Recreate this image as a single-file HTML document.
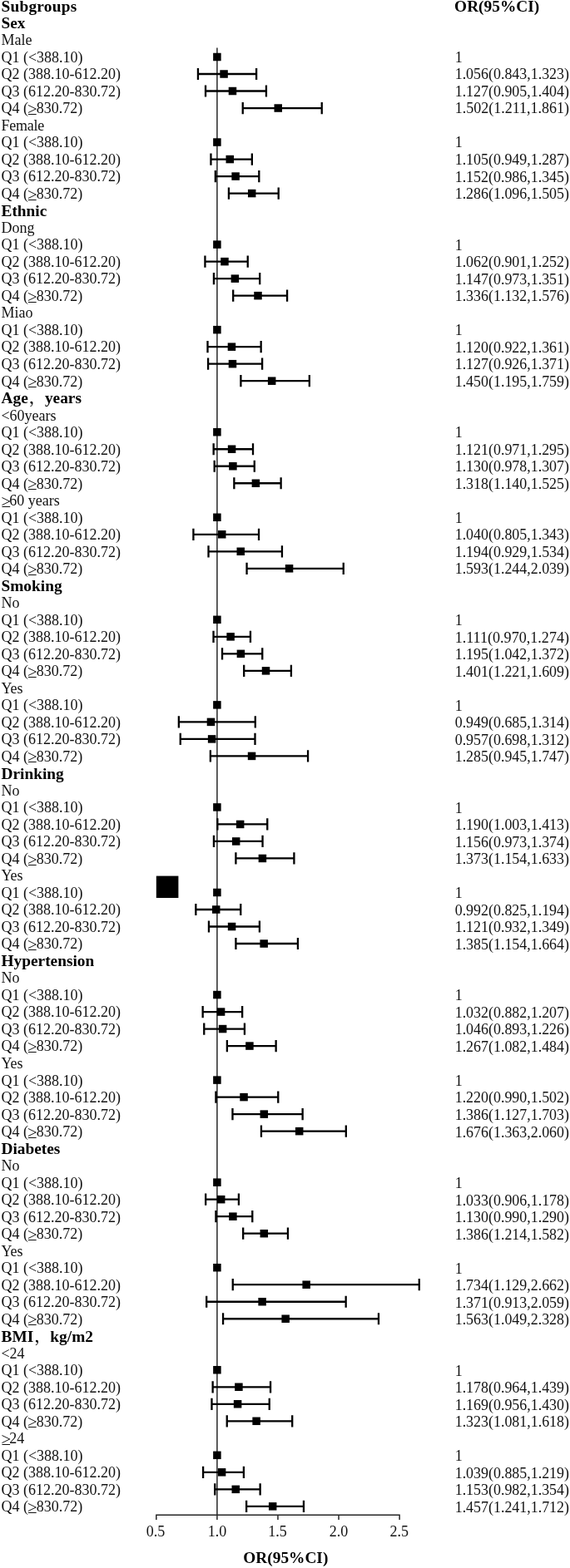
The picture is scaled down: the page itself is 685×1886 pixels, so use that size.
<!DOCTYPE html>
<html lang="en">
<head>
<meta charset="utf-8">
<title>Forest plot - subgroup OR(95%CI)</title>
<style>
html,body{margin:0;padding:0;background:#fff;}
body{width:685px;height:1886px;overflow:hidden;}
svg{display:block;}
.t text{font-family:"Liberation Serif","Noto Serif CJK SC",serif;font-size:18px;fill:#111;}
.t text.b{font-weight:bold;fill:#000;font-size:18.6px;}
.t text.ax{font-size:18px;}
.t .cm{font-weight:600;}
.t .ge{font-size:21px;}
</style>
</head>
<body>
<svg width="685" height="1886" viewBox="0 0 685 1886">
<rect width="685" height="1886" fill="#fff" stroke="none"/>
<g fill="none" stroke="#262626" stroke-width="1.5">
<path d="M260.90 57.4V1827.9"/>
<path d="M187.12 1822.2H480.82M187.82 1822.2V1827.9M333.97 1822.2V1827.9M407.05 1822.2V1827.9M480.12 1822.2V1827.9"/>
</g>
<g fill="none" stroke="#000" stroke-width="2.3">
<path d="M237.95 89.01H308.11M237.95 81.91v14.2M308.11 81.91v14.2"/>
<path d="M247.02 109.52H319.94M247.02 102.42v14.2M319.94 102.42v14.2"/>
<path d="M291.74 130.03H386.74M291.74 122.93v14.2M386.74 122.93v14.2"/>
<path d="M253.45 191.56H302.85M253.45 184.46v14.2M302.85 184.46v14.2"/>
<path d="M258.85 212.07H311.32M258.85 204.97v14.2M311.32 204.97v14.2"/>
<path d="M274.93 232.58H334.71M274.93 225.48v14.2M334.71 225.48v14.2"/>
<path d="M246.43 314.62H297.73M246.43 307.52v14.2M297.73 307.52v14.2"/>
<path d="M256.95 335.13H312.20M256.95 328.03v14.2M312.20 328.03v14.2"/>
<path d="M280.19 355.64H345.08M280.19 348.54v14.2M345.08 348.54v14.2"/>
<path d="M249.50 417.17H313.66M249.50 410.07v14.2M313.66 410.07v14.2"/>
<path d="M250.08 437.68H315.12M250.08 430.58v14.2M315.12 430.58v14.2"/>
<path d="M289.40 458.19H371.83M289.40 451.09v14.2M371.83 451.09v14.2"/>
<path d="M256.66 540.23H304.01M256.66 533.13v14.2M304.01 533.13v14.2"/>
<path d="M257.68 560.74H305.77M257.68 553.64v14.2M305.77 553.64v14.2"/>
<path d="M281.36 581.25H337.63M281.36 574.15v14.2M337.63 574.15v14.2"/>
<path d="M232.40 642.78H311.03M232.40 635.68v14.2M311.03 635.68v14.2"/>
<path d="M250.52 663.29H338.94M250.52 656.19v14.2M338.94 656.19v14.2"/>
<path d="M296.56 683.80H412.75M296.56 676.70v14.2M412.75 676.70v14.2"/>
<path d="M256.52 765.84H300.95M256.52 758.74v14.2M300.95 758.74v14.2"/>
<path d="M267.04 786.35H315.27M267.04 779.25v14.2M315.27 779.25v14.2"/>
<path d="M293.20 806.86H349.91M293.20 799.76v14.2M349.91 799.76v14.2"/>
<path d="M214.86 868.39H306.79M214.86 861.29v14.2M306.79 861.29v14.2"/>
<path d="M216.76 888.90H306.50M216.76 881.80v14.2M306.50 881.80v14.2"/>
<path d="M252.86 909.41H370.07M252.86 902.31v14.2M370.07 902.31v14.2"/>
<path d="M261.34 991.45H321.26M261.34 984.35v14.2M321.26 984.35v14.2"/>
<path d="M256.95 1011.96H315.56M256.95 1004.86v14.2M315.56 1004.86v14.2"/>
<path d="M283.41 1032.47H353.41M283.41 1025.37v14.2M353.41 1025.37v14.2"/>
<path d="M235.32 1094.00H289.25M235.32 1086.90v14.2M289.25 1086.90v14.2"/>
<path d="M250.96 1114.51H311.91M250.96 1107.41v14.2M311.91 1107.41v14.2"/>
<path d="M283.41 1135.02H357.94M283.41 1127.92v14.2M357.94 1127.92v14.2"/>
<path d="M243.65 1217.06H291.15M243.65 1209.96v14.2M291.15 1209.96v14.2"/>
<path d="M245.26 1237.57H293.93M245.26 1230.47v14.2M293.93 1230.47v14.2"/>
<path d="M272.88 1258.08H331.64M272.88 1250.98v14.2M331.64 1250.98v14.2"/>
<path d="M259.44 1319.61H334.27M259.44 1312.51v14.2M334.27 1312.51v14.2"/>
<path d="M279.46 1340.12H363.64M279.46 1333.02v14.2M363.64 1333.02v14.2"/>
<path d="M313.95 1360.63H415.82M313.95 1353.53v14.2M415.82 1353.53v14.2"/>
<path d="M247.16 1442.67H286.91M247.16 1435.57v14.2M286.91 1435.57v14.2"/>
<path d="M259.44 1463.18H303.28M259.44 1456.08v14.2M303.28 1456.08v14.2"/>
<path d="M292.18 1483.69H345.96M292.18 1476.59v14.2M345.96 1476.59v14.2"/>
<path d="M279.75 1545.22H503.80M279.75 1538.12v14.2M503.80 1538.12v14.2"/>
<path d="M248.18 1565.73H415.67M248.18 1558.63v14.2M415.67 1558.63v14.2"/>
<path d="M268.06 1586.24H454.99M268.06 1579.14v14.2M454.99 1579.14v14.2"/>
<path d="M255.64 1668.28H325.06M255.64 1661.18v14.2M325.06 1661.18v14.2"/>
<path d="M254.47 1688.79H323.74M254.47 1681.69v14.2M323.74 1681.69v14.2"/>
<path d="M272.74 1709.30H351.22M272.74 1702.20v14.2M351.22 1702.20v14.2"/>
<path d="M244.09 1770.83H292.91M244.09 1763.73v14.2M292.91 1763.73v14.2"/>
<path d="M258.27 1791.34H312.64M258.27 1784.24v14.2M312.64 1784.24v14.2"/>
<path d="M296.12 1811.85H364.96M296.12 1804.75v14.2M364.96 1804.75v14.2"/>
</g>
<g fill="#000" stroke="none">
<rect x="256.15" y="63.75" width="9.5" height="9.5"/>
<rect x="264.33" y="84.26" width="9.5" height="9.5"/>
<rect x="274.71" y="104.77" width="9.5" height="9.5"/>
<rect x="329.52" y="125.28" width="9.5" height="9.5"/>
<rect x="256.15" y="166.30" width="9.5" height="9.5"/>
<rect x="271.50" y="186.81" width="9.5" height="9.5"/>
<rect x="278.36" y="207.32" width="9.5" height="9.5"/>
<rect x="297.95" y="227.83" width="9.5" height="9.5"/>
<rect x="256.15" y="289.36" width="9.5" height="9.5"/>
<rect x="265.21" y="309.87" width="9.5" height="9.5"/>
<rect x="277.63" y="330.38" width="9.5" height="9.5"/>
<rect x="305.26" y="350.89" width="9.5" height="9.5"/>
<rect x="256.15" y="391.91" width="9.5" height="9.5"/>
<rect x="273.69" y="412.42" width="9.5" height="9.5"/>
<rect x="274.71" y="432.93" width="9.5" height="9.5"/>
<rect x="321.92" y="453.44" width="9.5" height="9.5"/>
<rect x="256.15" y="514.97" width="9.5" height="9.5"/>
<rect x="273.83" y="535.48" width="9.5" height="9.5"/>
<rect x="275.15" y="555.99" width="9.5" height="9.5"/>
<rect x="302.63" y="576.50" width="9.5" height="9.5"/>
<rect x="256.15" y="617.52" width="9.5" height="9.5"/>
<rect x="262.00" y="638.03" width="9.5" height="9.5"/>
<rect x="284.50" y="658.54" width="9.5" height="9.5"/>
<rect x="342.82" y="679.05" width="9.5" height="9.5"/>
<rect x="256.15" y="740.58" width="9.5" height="9.5"/>
<rect x="272.37" y="761.09" width="9.5" height="9.5"/>
<rect x="284.65" y="781.60" width="9.5" height="9.5"/>
<rect x="314.76" y="802.11" width="9.5" height="9.5"/>
<rect x="256.15" y="843.13" width="9.5" height="9.5"/>
<rect x="248.70" y="863.64" width="9.5" height="9.5"/>
<rect x="249.87" y="884.15" width="9.5" height="9.5"/>
<rect x="297.80" y="904.66" width="9.5" height="9.5"/>
<rect x="256.15" y="966.19" width="9.5" height="9.5"/>
<rect x="283.92" y="986.70" width="9.5" height="9.5"/>
<rect x="278.95" y="1007.21" width="9.5" height="9.5"/>
<rect x="310.66" y="1027.72" width="9.5" height="9.5"/>
<rect x="256.15" y="1068.74" width="9.5" height="9.5"/>
<rect x="254.98" y="1089.25" width="9.5" height="9.5"/>
<rect x="273.83" y="1109.76" width="9.5" height="9.5"/>
<rect x="312.42" y="1130.27" width="9.5" height="9.5"/>
<rect x="256.15" y="1191.80" width="9.5" height="9.5"/>
<rect x="260.83" y="1212.31" width="9.5" height="9.5"/>
<rect x="262.87" y="1232.82" width="9.5" height="9.5"/>
<rect x="295.17" y="1253.33" width="9.5" height="9.5"/>
<rect x="256.15" y="1294.35" width="9.5" height="9.5"/>
<rect x="288.30" y="1314.86" width="9.5" height="9.5"/>
<rect x="312.56" y="1335.37" width="9.5" height="9.5"/>
<rect x="354.95" y="1355.88" width="9.5" height="9.5"/>
<rect x="256.15" y="1417.41" width="9.5" height="9.5"/>
<rect x="260.97" y="1437.92" width="9.5" height="9.5"/>
<rect x="275.15" y="1458.43" width="9.5" height="9.5"/>
<rect x="312.56" y="1478.94" width="9.5" height="9.5"/>
<rect x="256.15" y="1519.96" width="9.5" height="9.5"/>
<rect x="363.42" y="1540.47" width="9.5" height="9.5"/>
<rect x="310.37" y="1560.98" width="9.5" height="9.5"/>
<rect x="338.43" y="1581.49" width="9.5" height="9.5"/>
<rect x="256.15" y="1643.02" width="9.5" height="9.5"/>
<rect x="282.16" y="1663.53" width="9.5" height="9.5"/>
<rect x="280.85" y="1684.04" width="9.5" height="9.5"/>
<rect x="303.36" y="1704.55" width="9.5" height="9.5"/>
<rect x="256.15" y="1745.57" width="9.5" height="9.5"/>
<rect x="261.85" y="1766.08" width="9.5" height="9.5"/>
<rect x="278.51" y="1786.59" width="9.5" height="9.5"/>
<rect x="322.94" y="1807.10" width="9.5" height="9.5"/>
<rect x="187.8" y="1053.6" width="26.6" height="26.4"/>
</g>
<g class="t">
<text transform="translate(1.50 13.65) scale(1.04 1)" class="b" textLength="87.2">Subgroups</text>
<text transform="translate(546.10 13.65) scale(1.04 1)" class="b">OR(95%CI)</text>
<text transform="translate(1.50 34.16) scale(1.04 1)" class="b">Sex</text>
<text x="1.40" y="54.27">Male</text>
<text x="1.40" y="74.79">Q1 (&lt;388.10)</text>
<text x="546.70" y="74.90">1</text>
<text x="1.40" y="95.30">Q2 (388.10-612.20)</text>
<text x="546.70" y="95.42" textLength="137.3" lengthAdjust="spacingAndGlyphs">1.056(0.843,1.323)</text>
<text x="1.40" y="115.81">Q3 (612.20-830.72)</text>
<text x="546.70" y="115.94" textLength="137.3" lengthAdjust="spacingAndGlyphs">1.127(0.905,1.404)</text>
<text x="1.40" y="136.32">Q4 (<tspan class="ge" dx="-0.8" dy="1.7">≥</tspan><tspan dx="-0.8" dy="-1.7">830.72)</tspan></text>
<text x="546.70" y="136.46" textLength="137.3" lengthAdjust="spacingAndGlyphs">1.502(1.211,1.861)</text>
<text x="1.40" y="156.83" textLength="51.8">Female</text>
<text x="1.40" y="177.35">Q1 (&lt;388.10)</text>
<text x="546.70" y="177.49">1</text>
<text x="1.40" y="197.86">Q2 (388.10-612.20)</text>
<text x="546.70" y="198.01" textLength="137.3" lengthAdjust="spacingAndGlyphs">1.105(0.949,1.287)</text>
<text x="1.40" y="218.37">Q3 (612.20-830.72)</text>
<text x="546.70" y="218.53" textLength="137.3" lengthAdjust="spacingAndGlyphs">1.152(0.986,1.345)</text>
<text x="1.40" y="238.88">Q4 (<tspan class="ge" dx="-0.8" dy="1.7">≥</tspan><tspan dx="-0.8" dy="-1.7">830.72)</tspan></text>
<text x="546.70" y="239.04" textLength="137.3" lengthAdjust="spacingAndGlyphs">1.286(1.096,1.505)</text>
<text transform="translate(1.50 259.79) scale(1.04 1)" class="b">Ethnic</text>
<text x="1.40" y="279.91">Dong</text>
<text x="1.40" y="300.42">Q1 (&lt;388.10)</text>
<text x="546.70" y="300.60">1</text>
<text x="1.40" y="320.93">Q2 (388.10-612.20)</text>
<text x="546.70" y="321.12" textLength="137.3" lengthAdjust="spacingAndGlyphs">1.062(0.901,1.252)</text>
<text x="1.40" y="341.44">Q3 (612.20-830.72)</text>
<text x="546.70" y="341.63" textLength="137.3" lengthAdjust="spacingAndGlyphs">1.147(0.973,1.351)</text>
<text x="1.40" y="361.95">Q4 (<tspan class="ge" dx="-0.8" dy="1.7">≥</tspan><tspan dx="-0.8" dy="-1.7">830.72)</tspan></text>
<text x="546.70" y="362.15" textLength="137.3" lengthAdjust="spacingAndGlyphs">1.336(1.132,1.576)</text>
<text x="1.40" y="382.47">Miao</text>
<text x="1.40" y="402.98">Q1 (&lt;388.10)</text>
<text x="546.70" y="403.19">1</text>
<text x="1.40" y="423.49">Q2 (388.10-612.20)</text>
<text x="546.70" y="423.70" textLength="137.3" lengthAdjust="spacingAndGlyphs">1.120(0.922,1.361)</text>
<text x="1.40" y="444.00">Q3 (612.20-830.72)</text>
<text x="546.70" y="444.22" textLength="137.3" lengthAdjust="spacingAndGlyphs">1.127(0.926,1.371)</text>
<text x="1.40" y="464.51">Q4 (<tspan class="ge" dx="-0.8" dy="1.7">≥</tspan><tspan dx="-0.8" dy="-1.7">830.72)</tspan></text>
<text x="546.70" y="464.74" textLength="137.3" lengthAdjust="spacingAndGlyphs">1.450(1.195,1.759)</text>
<text transform="translate(1.50 485.43) scale(1.04 1)" class="b">Age<tspan class="cm" dx="1.2">，</tspan><tspan dx="-0.4">years</tspan></text>
<text x="1.40" y="505.54">&lt;60years</text>
<text x="1.40" y="526.05">Q1 (&lt;388.10)</text>
<text x="546.70" y="526.29">1</text>
<text x="1.40" y="546.56">Q2 (388.10-612.20)</text>
<text x="546.70" y="546.81" textLength="137.3" lengthAdjust="spacingAndGlyphs">1.121(0.971,1.295)</text>
<text x="1.40" y="567.07">Q3 (612.20-830.72)</text>
<text x="546.70" y="567.33" textLength="137.3" lengthAdjust="spacingAndGlyphs">1.130(0.978,1.307)</text>
<text x="1.40" y="587.59">Q4 (<tspan class="ge" dx="-0.8" dy="1.7">≥</tspan><tspan dx="-0.8" dy="-1.7">830.72)</tspan></text>
<text x="546.70" y="587.85" textLength="137.3" lengthAdjust="spacingAndGlyphs">1.318(1.140,1.525)</text>
<text x="1.40" y="608.10"><tspan class="ge" dx="0" dy="1.7">≥</tspan><tspan dx="-1.6" dy="-1.7">60 years</tspan></text>
<text x="1.40" y="628.61">Q1 (&lt;388.10)</text>
<text x="546.70" y="628.88">1</text>
<text x="1.40" y="649.12">Q2 (388.10-612.20)</text>
<text x="546.70" y="649.40" textLength="137.3" lengthAdjust="spacingAndGlyphs">1.040(0.805,1.343)</text>
<text x="1.40" y="669.63">Q3 (612.20-830.72)</text>
<text x="546.70" y="669.92" textLength="137.3" lengthAdjust="spacingAndGlyphs">1.194(0.929,1.534)</text>
<text x="1.40" y="690.15">Q4 (<tspan class="ge" dx="-0.8" dy="1.7">≥</tspan><tspan dx="-0.8" dy="-1.7">830.72)</tspan></text>
<text x="546.70" y="690.43" textLength="137.3" lengthAdjust="spacingAndGlyphs">1.593(1.244,2.039)</text>
<text transform="translate(1.50 711.06) scale(1.04 1)" class="b">Smoking</text>
<text x="1.40" y="731.17">No</text>
<text x="1.40" y="751.68">Q1 (&lt;388.10)</text>
<text x="546.70" y="751.99">1</text>
<text x="1.40" y="772.19">Q2 (388.10-612.20)</text>
<text x="546.70" y="772.50" textLength="137.3" lengthAdjust="spacingAndGlyphs">1.111(0.970,1.274)</text>
<text x="1.40" y="792.71">Q3 (612.20-830.72)</text>
<text x="546.70" y="793.02" textLength="137.3" lengthAdjust="spacingAndGlyphs">1.195(1.042,1.372)</text>
<text x="1.40" y="813.22">Q4 (<tspan class="ge" dx="-0.8" dy="1.7">≥</tspan><tspan dx="-0.8" dy="-1.7">830.72)</tspan></text>
<text x="546.70" y="813.54" textLength="137.3" lengthAdjust="spacingAndGlyphs">1.401(1.221,1.609)</text>
<text x="1.40" y="833.73">Yes</text>
<text x="1.40" y="854.24">Q1 (&lt;388.10)</text>
<text x="546.70" y="854.57">1</text>
<text x="1.40" y="874.75">Q2 (388.10-612.20)</text>
<text x="546.70" y="875.09" textLength="137.3" lengthAdjust="spacingAndGlyphs">0.949(0.685,1.314)</text>
<text x="1.40" y="895.27">Q3 (612.20-830.72)</text>
<text x="546.70" y="895.61" textLength="137.3" lengthAdjust="spacingAndGlyphs">0.957(0.698,1.312)</text>
<text x="1.40" y="915.78">Q4 (<tspan class="ge" dx="-0.8" dy="1.7">≥</tspan><tspan dx="-0.8" dy="-1.7">830.72)</tspan></text>
<text x="546.70" y="916.13" textLength="137.3" lengthAdjust="spacingAndGlyphs">1.285(0.945,1.747)</text>
<text transform="translate(1.50 936.69) scale(1.04 1)" class="b">Drinking</text>
<text x="1.40" y="956.80">No</text>
<text x="1.40" y="977.31">Q1 (&lt;388.10)</text>
<text x="546.70" y="977.68">1</text>
<text x="1.40" y="997.83">Q2 (388.10-612.20)</text>
<text x="546.70" y="998.20" textLength="137.3" lengthAdjust="spacingAndGlyphs">1.190(1.003,1.413)</text>
<text x="1.40" y="1018.34">Q3 (612.20-830.72)</text>
<text x="546.70" y="1018.72" textLength="137.3" lengthAdjust="spacingAndGlyphs">1.156(0.973,1.374)</text>
<text x="1.40" y="1038.85">Q4 (<tspan class="ge" dx="-0.8" dy="1.7">≥</tspan><tspan dx="-0.8" dy="-1.7">830.72)</tspan></text>
<text x="546.70" y="1039.23" textLength="137.3" lengthAdjust="spacingAndGlyphs">1.373(1.154,1.633)</text>
<text x="1.40" y="1059.36">Yes</text>
<text x="1.40" y="1079.87">Q1 (&lt;388.10)</text>
<text x="546.70" y="1080.27">1</text>
<text x="1.40" y="1100.39">Q2 (388.10-612.20)</text>
<text x="546.70" y="1100.79" textLength="137.3" lengthAdjust="spacingAndGlyphs">0.992(0.825,1.194)</text>
<text x="1.40" y="1120.90">Q3 (612.20-830.72)</text>
<text x="546.70" y="1121.30" textLength="137.3" lengthAdjust="spacingAndGlyphs">1.121(0.932,1.349)</text>
<text x="1.40" y="1141.41">Q4 (<tspan class="ge" dx="-0.8" dy="1.7">≥</tspan><tspan dx="-0.8" dy="-1.7">830.72)</tspan></text>
<text x="546.70" y="1141.82" textLength="137.3" lengthAdjust="spacingAndGlyphs">1.385(1.154,1.664)</text>
<text transform="translate(1.50 1162.32) scale(1.04 1)" class="b">Hypertension</text>
<text x="1.40" y="1182.43">No</text>
<text x="1.40" y="1202.95">Q1 (&lt;388.10)</text>
<text x="546.70" y="1203.38">1</text>
<text x="1.40" y="1223.46">Q2 (388.10-612.20)</text>
<text x="546.70" y="1223.89" textLength="137.3" lengthAdjust="spacingAndGlyphs">1.032(0.882,1.207)</text>
<text x="1.40" y="1243.97">Q3 (612.20-830.72)</text>
<text x="546.70" y="1244.41" textLength="137.3" lengthAdjust="spacingAndGlyphs">1.046(0.893,1.226)</text>
<text x="1.40" y="1264.48">Q4 (<tspan class="ge" dx="-0.8" dy="1.7">≥</tspan><tspan dx="-0.8" dy="-1.7">830.72)</tspan></text>
<text x="546.70" y="1264.93" textLength="137.3" lengthAdjust="spacingAndGlyphs">1.267(1.082,1.484)</text>
<text x="1.40" y="1284.99">Yes</text>
<text x="1.40" y="1305.51">Q1 (&lt;388.10)</text>
<text x="546.70" y="1305.96">1</text>
<text x="1.40" y="1326.02">Q2 (388.10-612.20)</text>
<text x="546.70" y="1326.48" textLength="137.3" lengthAdjust="spacingAndGlyphs">1.220(0.990,1.502)</text>
<text x="1.40" y="1346.53">Q3 (612.20-830.72)</text>
<text x="546.70" y="1347.00" textLength="137.3" lengthAdjust="spacingAndGlyphs">1.386(1.127,1.703)</text>
<text x="1.40" y="1367.04">Q4 (<tspan class="ge" dx="-0.8" dy="1.7">≥</tspan><tspan dx="-0.8" dy="-1.7">830.72)</tspan></text>
<text x="546.70" y="1367.52" textLength="137.3" lengthAdjust="spacingAndGlyphs">1.676(1.363,2.060)</text>
<text transform="translate(1.50 1387.95) scale(1.04 1)" class="b">Diabetes</text>
<text x="1.40" y="1408.07">No</text>
<text x="1.40" y="1428.58">Q1 (&lt;388.10)</text>
<text x="546.70" y="1429.07">1</text>
<text x="1.40" y="1449.09">Q2 (388.10-612.20)</text>
<text x="546.70" y="1449.59" textLength="137.3" lengthAdjust="spacingAndGlyphs">1.033(0.906,1.178)</text>
<text x="1.40" y="1469.60">Q3 (612.20-830.72)</text>
<text x="546.70" y="1470.11" textLength="137.3" lengthAdjust="spacingAndGlyphs">1.130(0.990,1.290)</text>
<text x="1.40" y="1490.11">Q4 (<tspan class="ge" dx="-0.8" dy="1.7">≥</tspan><tspan dx="-0.8" dy="-1.7">830.72)</tspan></text>
<text x="546.70" y="1490.62" textLength="137.3" lengthAdjust="spacingAndGlyphs">1.386(1.214,1.582)</text>
<text x="1.40" y="1510.63">Yes</text>
<text x="1.40" y="1531.14">Q1 (&lt;388.10)</text>
<text x="546.70" y="1531.66">1</text>
<text x="1.40" y="1551.65">Q2 (388.10-612.20)</text>
<text x="546.70" y="1552.18" textLength="137.3" lengthAdjust="spacingAndGlyphs">1.734(1.129,2.662)</text>
<text x="1.40" y="1572.16">Q3 (612.20-830.72)</text>
<text x="546.70" y="1572.69" textLength="137.3" lengthAdjust="spacingAndGlyphs">1.371(0.913,2.059)</text>
<text x="1.40" y="1592.67">Q4 (<tspan class="ge" dx="-0.8" dy="1.7">≥</tspan><tspan dx="-0.8" dy="-1.7">830.72)</tspan></text>
<text x="546.70" y="1593.21" textLength="137.3" lengthAdjust="spacingAndGlyphs">1.563(1.049,2.328)</text>
<text transform="translate(1.50 1613.59) scale(1.04 1)" class="b">BMI<tspan class="cm" dx="1.2">，</tspan><tspan dx="-0.4">kg/m2</tspan></text>
<text x="1.40" y="1633.70">&lt;24</text>
<text x="1.40" y="1654.21">Q1 (&lt;388.10)</text>
<text x="546.70" y="1654.76">1</text>
<text x="1.40" y="1674.72">Q2 (388.10-612.20)</text>
<text x="546.70" y="1675.28" textLength="137.3" lengthAdjust="spacingAndGlyphs">1.178(0.964,1.439)</text>
<text x="1.40" y="1695.23">Q3 (612.20-830.72)</text>
<text x="546.70" y="1695.80" textLength="137.3" lengthAdjust="spacingAndGlyphs">1.169(0.956,1.430)</text>
<text x="1.40" y="1715.75">Q4 (<tspan class="ge" dx="-0.8" dy="1.7">≥</tspan><tspan dx="-0.8" dy="-1.7">830.72)</tspan></text>
<text x="546.70" y="1716.32" textLength="137.3" lengthAdjust="spacingAndGlyphs">1.323(1.081,1.618)</text>
<text x="1.40" y="1736.26"><tspan class="ge" dx="0" dy="1.7">≥</tspan><tspan dx="-1.6" dy="-1.7">24</tspan></text>
<text x="1.40" y="1756.77">Q1 (&lt;388.10)</text>
<text x="546.70" y="1757.35">1</text>
<text x="1.40" y="1777.28">Q2 (388.10-612.20)</text>
<text x="546.70" y="1777.87" textLength="137.3" lengthAdjust="spacingAndGlyphs">1.039(0.885,1.219)</text>
<text x="1.40" y="1797.79">Q3 (612.20-830.72)</text>
<text x="546.70" y="1798.39" textLength="137.3" lengthAdjust="spacingAndGlyphs">1.153(0.982,1.354)</text>
<text x="1.40" y="1818.31">Q4 (<tspan class="ge" dx="-0.8" dy="1.7">≥</tspan><tspan dx="-0.8" dy="-1.7">830.72)</tspan></text>
<text x="546.70" y="1818.91" textLength="137.3" lengthAdjust="spacingAndGlyphs">1.457(1.241,1.712)</text>
<text x="187.12" y="1848.2" text-anchor="middle" class="ax">0.5</text>
<text x="260.90" y="1848.2" text-anchor="middle" class="ax">1.0</text>
<text x="333.57" y="1848.2" text-anchor="middle" class="ax">1.5</text>
<text x="407.05" y="1848.2" text-anchor="middle" class="ax">2.0</text>
<text x="479.82" y="1848.2" text-anchor="middle" class="ax">2.5</text>
<text transform="translate(343.3 1880.4) scale(1.04 1)" text-anchor="middle" class="b">OR(95%CI)</text>
</g>
</svg>
</body>
</html>
